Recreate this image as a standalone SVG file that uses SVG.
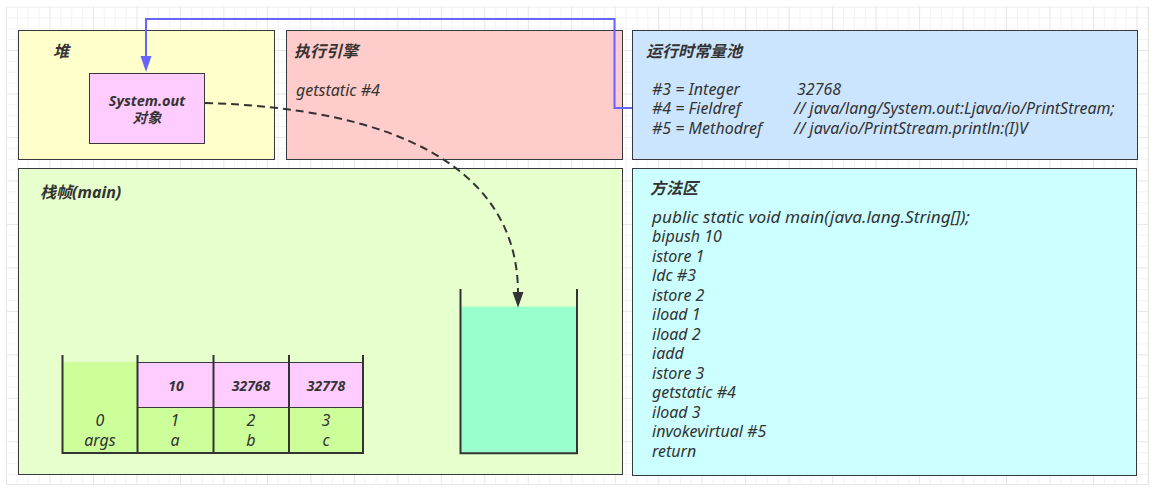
<svg xmlns="http://www.w3.org/2000/svg" width="1174" height="499" viewBox="0 0 1174 499">
<style>
.box{stroke:#36393d;stroke-width:1}
.title{font-family:"Noto Sans","Noto Sans CJK SC",sans-serif;font-weight:bold;font-style:italic;font-size:16px;fill:#333}
.t{font-family:"Noto Sans","Noto Sans CJK SC",sans-serif;font-style:italic;font-size:16px;fill:#333}
.b{font-family:"Noto Sans","Noto Sans CJK SC",sans-serif;font-style:italic;font-weight:bold;font-size:14px;fill:#333}
.wall{fill:none;stroke:#333;stroke-width:2}
.cell{stroke:#36393d;stroke-width:1}
</style>
<defs>
<pattern id="grid" x="6" y="6.5" width="43.48" height="43.48" patternUnits="userSpaceOnUse">
<path d="M0 11.37H43.48M0 22.24H43.48M0 33.11H43.48M11.37 0V43.48M22.24 0V43.48M33.11 0V43.48" stroke="#f3f3f3" stroke-width="1" fill="none"/>
<path d="M0 0.5H43.48M0.5 0V43.48" stroke="#e6e6e6" stroke-width="1" fill="none"/>
</pattern>
</defs>
<rect width="1174" height="499" fill="#ffffff"/>
<rect x="6" y="6.5" width="1142.5" height="478" fill="url(#grid)"/>
<path d="M1148.5 6.5V484.5M6 484.5H1148.5" stroke="#e6e6e6" stroke-width="1"/>

<g id="heap">
<rect class="box" x="18.5" y="30.5" width="256" height="129" fill="#ffffcc"/>
<text class="title" x="53" y="57">堆</text>
</g>
<g id="system-out">
<rect class="box" x="89.5" y="73.5" width="115" height="70" fill="#ffccff"/>
<text class="b" x="147" y="106" text-anchor="middle" style="font-size:14.5px">System.out</text>
<text class="b" x="147" y="123" text-anchor="middle" style="font-size:14.5px">对象</text>
</g>
<g id="exec-engine">
<rect class="box" x="286.5" y="30.5" width="336" height="129" fill="#ffcccc"/>
<text class="title" x="294" y="57">执行引擎</text>
<text class="t" x="296" y="96">getstatic #4</text>
</g>
<g id="constant-pool">
<rect class="box" x="632.5" y="30.5" width="505" height="129" fill="#cce5ff"/>
<text class="title" x="646" y="57">运行时常量池</text>
<text class="t" x="652" y="94.5">#3 = Integer</text>
<text class="t" x="797" y="94.5">32768</text>
<text class="t" x="652" y="114">#4 = Fieldref</text>
<text class="t" x="794" y="114">// java/lang/System.out:Ljava/io/PrintStream;</text>
<text class="t" x="652" y="133.5">#5 = Methodref</text>
<text class="t" x="794" y="133.5">// java/io/PrintStream.println:(I)V</text>
</g>
<g id="stack-frame">
<rect class="box" x="18.5" y="168.5" width="604" height="306" fill="#e6ffcc"/>
<text class="title" x="40" y="198">栈帧(main)</text>
</g>
<g id="local-vars">
<rect x="63" y="362" width="74.5" height="91" fill="#ccff99"/>
<rect class="cell" x="137.5" y="362.5" width="76" height="45" fill="#ffccff"/>
<rect class="cell" x="213.5" y="362.5" width="75.5" height="45" fill="#ffccff"/>
<rect class="cell" x="289" y="362.5" width="74" height="45" fill="#ffccff"/>
<rect class="cell" x="137.5" y="407.5" width="76" height="45.5" fill="#ccff99"/>
<rect class="cell" x="213.5" y="407.5" width="75.5" height="45.5" fill="#ccff99"/>
<rect class="cell" x="289" y="407.5" width="74" height="45.5" fill="#ccff99"/>
<path class="wall" d="M62.5 355V453H363V355M137.5 355V453M213.5 355V453M289 355V453"/>
<text class="b" x="176" y="391" text-anchor="middle">10</text>
<text class="b" x="251" y="391" text-anchor="middle">32768</text>
<text class="b" x="326" y="391" text-anchor="middle">32778</text>
<text class="t" x="100" y="425.5" text-anchor="middle">0</text>
<text class="t" x="100" y="445.5" text-anchor="middle">args</text>
<text class="t" x="175" y="425.5" text-anchor="middle">1</text>
<text class="t" x="175" y="445.5" text-anchor="middle">a</text>
<text class="t" x="251" y="425.5" text-anchor="middle">2</text>
<text class="t" x="251" y="445.5" text-anchor="middle">b</text>
<text class="t" x="326" y="425.5" text-anchor="middle">3</text>
<text class="t" x="326" y="445.5" text-anchor="middle">c</text>
</g>
<g id="operand-stack">
<rect x="461" y="306.5" width="116" height="146.5" fill="#99ffcc"/>
<path class="wall" d="M460.5 289V453.3H577V289"/>
</g>
<g id="method-area">
<rect class="box" x="632.5" y="168.5" width="504" height="307" fill="#ccffff"/>
<text class="title" x="650" y="193.5">方法区</text>
<text class="t" x="652" y="222.5" textLength="318" lengthAdjust="spacingAndGlyphs">public static void main(java.lang.String[]);</text>
<text class="t" x="652" y="242">bipush 10</text>
<text class="t" x="652" y="261.5">istore 1</text>
<text class="t" x="652" y="281">ldc #3</text>
<text class="t" x="652" y="300.5">istore 2</text>
<text class="t" x="652" y="320">iload 1</text>
<text class="t" x="652" y="339.5">iload 2</text>
<text class="t" x="652" y="359">iadd</text>
<text class="t" x="652" y="378.5">istore 3</text>
<text class="t" x="652" y="398">getstatic #4</text>
<text class="t" x="652" y="417.5">iload 3</text>
<text class="t" x="652" y="437">invokevirtual #5</text>
<text class="t" x="652" y="456.5">return</text>
</g>
<g id="connectors">
<path d="M632 108H614.5V19H146V58" fill="none" stroke="#6666ff" stroke-width="2"/>
<polygon points="140.5,56 151.5,56 146,72" fill="#6666ff"/>
<path d="M205 103C390 108 518 165 518 293" fill="none" stroke="#333" stroke-width="2" stroke-dasharray="8 5"/>
<polygon points="512.5,292 523.5,292 518,307.5" fill="#333"/>
</g>
</svg>
